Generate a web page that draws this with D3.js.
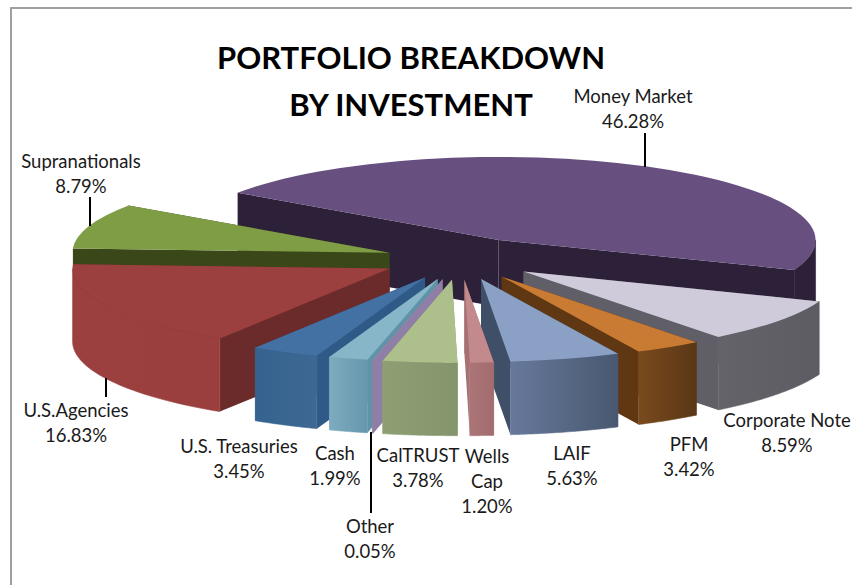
<!DOCTYPE html>
<html>
<head>
<meta charset="utf-8">
<script src="https://cdn.jsdelivr.net/npm/d3@7"></script>
<style>
  html, body { margin: 0; padding: 0; background: #fff; }
  svg { display: block; }
  text { font-family: Lato, sans-serif; fill: #1a1a1a; }
</style>
</head>
<body>
<svg id="chart" width="852" height="585"></svg>
<script>
"use strict";

//Chart values, in clockwise order from the top of the pie
var categories = ["Money Market", "Corporate Note", "PFM", "LAIF", "Wells Cap", "CalTRUST",
                  "Other", "Cash", "U.S. Treasuries", "U.S.Agencies", "Supranationals"];
var shares = [46.28, 8.59, 3.42, 5.63, 1.20, 3.78, 0.05, 1.99, 3.45, 16.83, 8.79];

//Colors per slice: top, radial wall, outer wall left and right end
var topColors = ["#67507f", "#cfcbdb", "#c97b33", "#8aa0c4", "#c28a8c", "#adc08c",
                 "#9387ab", "#86b6c8", "#4471a3", "#9c403f", "#7f9d45"];
var sideColors = ["#2d2139", "#605e66", "#5f3713", "#3f4f68", "#a77072", "#8a9a6e",
                  "#8f7fa6", "#5f93a8", "#2f5a87", "#6b2b2b", "#3a4719"];
var wallLeft = ["#2d2139", "#65636a", "#7a4a1e", "#67799b", "#ab7476", "#8f9f74",
                "#8f7fa6", "#7dabbf", "#35628f", "#9c403f", "#3a4719"];
var wallRight = ["#2d2139", "#5e5c63", "#5a3716", "#485870", "#a26c6e", "#84956c",
                 "#8f7fa6", "#6797ad", "#3e6893", "#9b3f3e", "#3a4719"];

//Back slices first, so the front ones cover them
var drawOrder = [0, 10, 9, 8, 7, 6, 1, 2, 3, 4, 5];

//How far each slice is pulled out, and the height of its wall
var explodes = [0.26, 0.25, 0.25, 0.25, 0.25, 0.25, 0.25, 0.25, 0.25, 0.25, 0.235];
var depths = [67, 73, 73, 73, 73, 73, 73, 73, 73, 73, 20];

//Label placement: center x, first baseline, and how the name wraps
var labelX = [633, 787, 689, 572, 487, 418, 370, 335, 239, 76, 81];
var labelY = [103, 427, 451, 460, 463, 462, 533, 460, 453, 417, 168];
var labelWrap = [null, null, null, null, ["Wells", "Cap"], null, null, null, null, null, null];

//Leader lines as x, y start, y end
var leaders = [[645, 133, 167], [90, 197, 226], [106, 378, 397], [371, 432, 513]];

var titleLines = ["PORTFOLIO BREAKDOWN", "BY INVESTMENT"];

var svg = d3.select("#chart");
var defs = svg.append("defs");

//Geometry of the flattened pie
var centerX = 460, centerY = 259;
var radiusX = 317, radiusY = 83;
var rotation = -55.4 * Math.PI / 180;

var pie = d3.pie().sort(null)
  .startAngle(rotation)
  .endAngle(rotation + 2 * Math.PI)
  .value(function(d) { return d; });

var arcs = pie(shares);
var fmt = d3.format(".2f");

//Border of the picture (only left and top show)
svg.append("path")
  .attr("d", "M11,585V8H852")
  .attr("fill", "none")
  .attr("stroke", "#a0a0a0")
  .attr("stroke-width", 2);

var topArc = d3.arc().innerRadius(0).outerRadius(radiusX);
var polyLine = d3.line();

function project(apex, angle) {
  return [apex[0] + radiusX * Math.sin(angle), apex[1] - radiusY * Math.cos(angle)];
}

function drawSlice(i) {
  var d = arcs[i];
  var mid = (d.startAngle + d.endAngle) / 2;
  var apex = [centerX + explodes[i] * radiusX * Math.sin(mid),
              centerY - explodes[i] * radiusY * Math.cos(mid)];
  var depth = depths[i];
  var g = svg.append("g").attr("class", "slice");

  //Radial walls, the hidden one gets covered by the faces drawn after it
  [d.startAngle, d.endAngle].forEach(function(a) {
    var p = project(apex, a);
    g.append("path")
      .attr("d", polyLine([apex, p, [p[0], p[1] + depth], [apex[0], apex[1] + depth]]) + "Z")
      .attr("fill", sideColors[i]);
  });

  //Outer wall, only the part that looks to the front (between 90 and 270 degrees)
  var tau = 2 * Math.PI;
  [0, tau].forEach(function(turn) {
    var from = Math.max(d.startAngle, Math.PI / 2 + turn);
    var to = Math.min(d.endAngle, 3 * Math.PI / 2 + turn);
    if (to <= from) return;
    var steps = d3.range(0, 41).map(function(k) { return from + (to - from) * k / 40; });
    var upper = steps.map(function(a) { return project(apex, a); });
    var lower = upper.map(function(p) { return [p[0], p[1] + depth]; }).reverse();
    var id = "wall" + i;
    var grad = defs.append("linearGradient").attr("id", id);
    grad.append("stop").attr("offset", "0%").attr("stop-color", wallLeft[i]);
    grad.append("stop").attr("offset", "100%").attr("stop-color", wallRight[i]);
    g.append("path")
      .attr("d", polyLine(upper.concat(lower)) + "Z")
      .attr("fill", "url(#" + id + ")")
      .attr("stroke", "url(#" + id + ")")
      .attr("stroke-width", 0.6);
  });

  //Top face
  g.append("path")
    .attr("d", topArc(d))
    .attr("transform", "translate(" + apex[0] + "," + apex[1] + ") scale(1," + (radiusY / radiusX) + ")")
    .attr("fill", topColors[i]);
}

drawOrder.forEach(drawSlice);

//Leader lines
leaders.forEach(function(l) {
  svg.append("line")
    .attr("x1", l[0]).attr("x2", l[0])
    .attr("y1", l[1]).attr("y2", l[2])
    .attr("stroke", "#000")
    .attr("stroke-width", 2);
});

//Data labels
categories.forEach(function(name, i) {
  var lines = (labelWrap[i] || [name]).concat(fmt(shares[i]) + "%");
  svg.append("g").selectAll("text")
    .data(lines)
    .enter().append("text")
      .attr("x", labelX[i])
      .attr("y", function(d, k) { return labelY[i] + k * 25; })
      .attr("text-anchor", "middle")
      .attr("font-size", "18.5px")
      .text(function(d) { return d; });
});

//Title
svg.append("g").selectAll("text")
  .data(titleLines)
  .enter().append("text")
    .attr("x", 411)
    .attr("y", function(d, k) { return 69 + k * 47; })
    .attr("text-anchor", "middle")
    .attr("font-size", "31px")
    .attr("font-weight", "bold")
    .style("fill", "#000")
    .text(function(d) { return d; });
</script>
</body>
</html>
